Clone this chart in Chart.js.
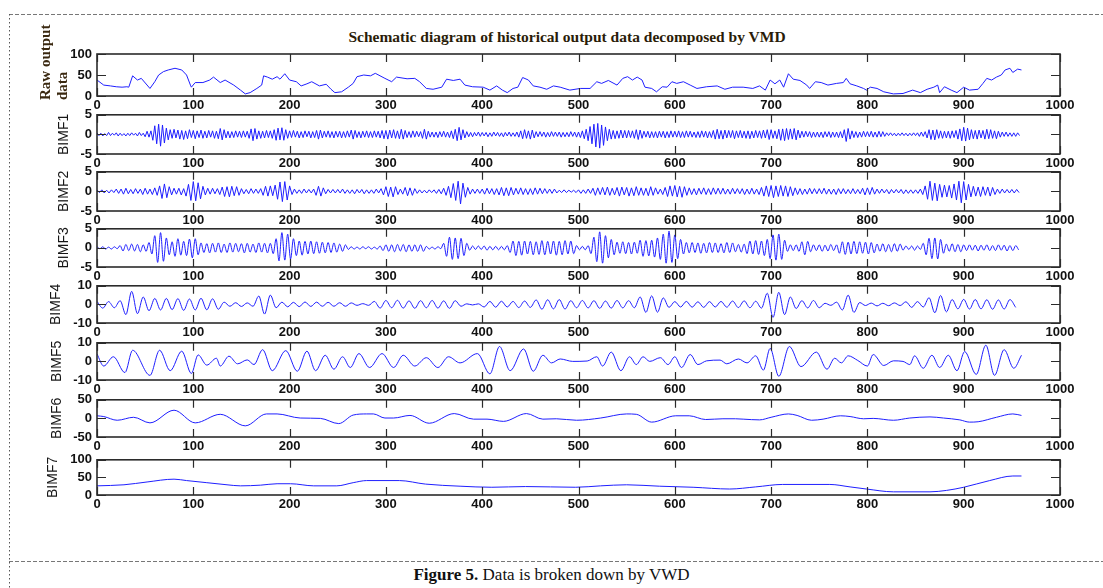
<!DOCTYPE html>
<html>
<head>
<meta charset="utf-8">
<title>VMD decomposition</title>
<script src="https://cdn.jsdelivr.net/npm/chart.js@4.4.1/dist/chart.umd.min.js"></script>
<style>
  html, body { margin: 0; padding: 0; background: #fff; }
  #figure { position: relative; width: 1103px; height: 588px; overflow: hidden; background: #fff; }
  #frame { position: absolute; left: 0; top: 0; }
  #figure canvas { position: absolute; left: 0; }
  #title {
    position: absolute; left: 567px; top: 29px; transform: translateX(-50%);
    font: bold 15.5px "Liberation Serif", "Times New Roman", serif; line-height: 1;
    color: #2a1c08; white-space: nowrap;
  }
  #caption {
    position: absolute; left: 0; width: 1103px; top: 566px; text-align: center;
    font: 17px "Liberation Serif", "Times New Roman", serif; line-height: 1; color: #111;
    white-space: nowrap;
  }
</style>
</head>
<body>
<div id="figure">
  <svg id="frame" width="1103" height="588">
    <line x1="9" y1="14.5" x2="1103" y2="14.5" stroke="#777" stroke-width="1" stroke-dasharray="4 2"/>
    <line x1="9" y1="561.5" x2="1103" y2="561.5" stroke="#777" stroke-width="1" stroke-dasharray="4 2"/>
    <line x1="9.5" y1="14" x2="9.5" y2="588" stroke="#555" stroke-width="1" stroke-dasharray="1.5 2.5"/>
  </svg>
  <div id="title">Schematic diagram of historical output data decomposed by VMD</div>
  <div id="caption"><b>Figure 5.</b> Data is broken down by VWD</div>
</div>
<script>
// ---- series --------------------------------------------------------------

// raw output, sampled where the curve turns
const RAW_X = [0,7,14,20,26,31,33,37,42,46,55,60,64,69,74,81,88,93,97,98,102,110,117,121,128,133,142,149,154,159,166,171,173,177,182,187,190,195,200,207,212,218,223,231,238,243,247,254,261,266,270,277,284,289,299,306,311,322,330,335,342,349,358,363,370,377,382,390,401,408,415,421,426,432,437,442,448,453,460,467,474,481,491,502,512,519,524,531,540,546,551,556,561,566,569,576,581,587,592,597,602,609,616,623,633,644,652,660,671,681,688,694,699,704,709,713,718,723,730,737,740,746,752,759,768,775,778,782,789,796,799,803,810,817,827,837,847,855,862,869,873,875,880,887,893,900,906,915,920,924,929,934,939,943,948,951,956,960];
const RAW_Y = [38,26,24,22,21,22,21,48,38,42,18,34,50,58,62,66,62,50,26,21,32,32,38,45,32,38,26,14,5,8,18,26,48,45,40,46,40,53,38,34,24,29,34,24,28,16,8,10,21,30,46,50,48,54,42,34,45,41,42,34,18,16,21,40,37,40,26,22,21,14,24,14,8,18,21,44,38,24,21,16,24,21,14,18,18,34,30,37,26,42,46,38,45,38,21,18,10,22,21,34,30,34,26,18,22,24,16,21,21,18,24,14,38,29,38,21,53,40,37,26,18,34,32,26,30,32,42,29,24,18,14,21,18,10,5,6,14,8,16,21,26,8,22,14,8,21,14,16,30,42,38,45,50,62,66,56,64,62];

// BIMF1, one value every 2 samples
const BIMF1_STEP = 2;
const BIMF1 = [
  0.4,-0.3,0.3,-0.4,0.2,-0.3,0.5,-0.3,0.3,-0.2,0.4,-0.4,0.3,-0.3,0.2,-0.4,0.3,-0.3,0.4,-0.2,0.3,-0.4,0.5,-0.3,0.3,
  -0.6,0.8,-0.7,0.9,-1.5,2.2,-2.4,2.6,-3.0,2.4,-2.2,1.6,-1.4,1.2,-1.0,1.3,-0.9,1.1,-1.2,1.0,-1.3,0.9,-1.1,1.2,-0.8,
  1.0,-1.1,0.9,-0.8,1.1,-1.0,0.8,-0.9,1.0,-0.7,0.9,-1.0,0.8,-1.1,1.5,-1.4,1.2,-0.9,0.8,-0.9,0.7,-0.8,0.9,-0.7,0.8,
  -0.8,0.9,-0.7,0.8,-1.0,1.4,-1.6,1.5,-1.2,0.9,-1.0,0.8,-0.9,1.0,-0.8,0.9,-1.0,1.2,-1.5,1.6,-1.4,1.7,-1.5,1.2,-1.0,
  0.9,-0.8,1.0,-0.7,0.8,-0.9,0.7,-0.8,0.9,-0.6,0.8,-0.9,0.7,-0.8,1.0,-1.2,1.1,-0.9,0.8,-0.7,0.9,-0.8,0.7,-0.9,0.8,
  -0.7,0.8,-0.9,0.7,-0.8,0.9,-0.7,1.1,-1.2,1.0,-0.8,0.7,-0.9,0.8,-0.7,0.9,-0.8,0.7,-0.8,0.9,-0.7,0.8,-0.9,1.0,-1.1,
  1.0,-1.2,1.1,-0.9,1.2,-1.0,0.9,-1.1,1.3,-1.2,1.0,-0.8,0.7,-0.8,0.9,-0.7,0.8,-0.6,0.7,-1.0,1.3,-1.2,0.8,-0.7,0.6,
  -0.7,0.6,-0.8,0.7,-0.6,0.8,-0.7,0.6,-0.8,0.9,-1.1,1.3,-1.6,1.8,-1.4,1.2,-0.9,0.7,-0.6,0.5,-0.6,0.5,-0.4,0.6,-0.5,
  0.5,-0.4,0.5,-0.6,0.4,-0.5,0.6,-0.4,0.5,-0.5,0.4,-0.6,0.5,-0.4,0.6,-0.5,0.4,-0.5,0.6,-0.7,0.9,-1.1,1.2,-1.0,0.9,
  -1.2,1.1,-0.9,0.7,-0.6,0.7,-0.5,0.6,-0.7,0.5,-0.6,0.7,-0.5,0.6,-0.5,0.6,-0.7,0.5,-0.6,0.5,-0.6,0.7,-0.5,0.6,-0.7,
  0.6,-0.8,0.9,-1.1,1.3,-1.6,2.0,-2.4,2.6,-3.2,2.8,-3.5,2.4,-2.8,1.9,-1.6,1.3,-1.2,1.0,-1.1,0.9,-1.0,1.1,-0.9,1.0,
  -0.9,1.0,-0.8,0.9,-1.0,1.2,-1.3,1.1,-1.0,0.8,-0.7,0.8,-0.9,0.7,-0.8,0.7,-0.9,0.8,-0.7,0.8,-0.9,0.7,-0.8,0.9,-0.7,
  0.8,-0.7,0.9,-0.8,0.7,-0.8,0.9,-0.7,0.8,-0.7,0.6,-0.8,0.7,-0.8,0.9,-0.7,0.8,-0.9,0.7,-0.8,1.0,-1.2,1.3,-1.1,1.0,
  -1.2,1.1,-0.9,1.0,-0.8,1.0,-1.1,0.9,-0.8,1.0,-0.9,0.8,-1.0,0.9,-1.1,0.8,-0.9,1.0,-0.8,0.9,-1.0,1.1,-0.9,1.2,-1.3,
  1.2,-1.0,0.9,-1.1,1.3,-1.5,1.4,-1.6,1.5,-1.3,1.4,-1.2,1.5,-1.4,1.1,-0.9,0.8,-0.7,0.8,-0.6,0.7,-0.8,0.6,-0.7,0.6,
  -0.7,0.6,-0.8,0.7,-0.6,0.7,-0.8,0.6,-0.7,0.6,-0.8,0.7,-0.9,1.2,-1.8,1.5,-1.2,0.9,-0.8,0.7,-0.8,0.6,-0.7,0.8,-0.6,
  0.7,-0.6,0.8,-0.7,0.6,-0.7,0.8,-0.6,0.7,-0.5,0.4,-0.3,0.4,-0.3,0.3,-0.4,0.3,-0.3,0.4,-0.3,0.3,-0.4,0.3,-0.3,0.4,
  -0.3,0.4,-0.5,0.6,-0.5,0.7,-0.9,1.2,-1.3,1.1,-1.4,1.2,-1.0,0.9,-1.0,0.8,-0.9,0.8,-1.0,0.9,-0.8,1.0,-1.2,1.4,-1.6,
  1.8,-1.7,1.6,-1.4,1.2,-1.1,1.0,-1.2,1.1,-0.9,1.0,-1.2,1.3,-1.1,1.2,-1.0,0.9,-1.1,0.8,-0.7,0.6,-0.5,0.6,-0.5,0.4,
  -0.5,0.4,-0.5,0.4,-0.3
];

// BIMF2, one value every 2.5 samples
const BIMF2_STEP = 2.5;
const BIMF2 = [
  0.4,-0.3,0.4,-0.4,0.3,-0.4,0.4,-0.3,0.6,-0.5,0.6,-0.7,0.8,-0.6,0.5,-0.6,0.7,-0.5,0.6,-0.8,
  0.8,-0.7,0.6,-0.8,0.9,-1.0,1.4,-1.8,1.9,-1.6,1.2,-0.9,0.8,-0.7,0.8,-0.9,0.7,-1.2,1.8,-2.3,
  2.5,-2.4,2.2,-1.9,1.3,-0.9,0.8,-0.7,0.8,-0.6,0.7,-0.8,1.1,-1.3,1.2,-1.4,1.3,-1.1,1.2,-1.0,
  0.7,-0.6,0.5,-0.6,0.7,-0.5,0.6,-0.5,0.7,-1.0,1.3,-1.2,1.4,-1.1,1.6,-2.0,2.4,-2.6,2.5,-2.2,
  1.4,-0.8,0.6,-0.5,0.4,-0.5,0.6,-0.4,0.5,-0.4,0.6,-1.0,1.3,-1.2,0.9,-0.6,0.5,-0.4,0.5,-0.4,
  0.5,-0.4,0.6,-0.5,0.4,-0.5,0.4,-0.6,0.5,-0.4,0.5,-0.6,0.4,-0.5,0.4,-0.5,0.6,-0.4,0.7,-0.9,
  1.2,-1.3,1.1,-1.4,1.2,-0.8,0.6,-0.7,1.0,-1.1,0.9,-1.0,0.7,-0.5,0.4,-0.4,0.3,-0.4,0.4,-0.3,
  0.4,-0.5,0.5,-0.6,0.8,-1.0,1.3,-1.6,2.0,-2.3,2.6,-3.2,2.1,-1.5,1.0,-0.7,0.6,-0.5,0.6,-0.5,
  0.6,-0.7,0.8,-0.6,0.7,-0.8,0.7,-0.9,1.0,-1.1,0.9,-1.1,1.0,-0.9,0.8,-0.7,0.9,-0.8,0.7,-0.8,
  0.7,-0.8,0.9,-0.7,0.8,-0.6,0.7,-0.5,0.6,-0.5,0.6,-0.4,0.3,-0.3,0.4,-0.3,0.3,-0.2,0.3,-0.3,
  0.4,-0.5,0.4,-0.5,0.6,-0.5,0.8,-1.0,0.9,-0.8,1.0,-0.9,1.1,-1.0,0.8,-0.9,1.0,-1.2,1.1,-0.9,
  1.0,-1.2,0.9,-1.1,1.2,-1.0,0.9,-1.0,0.8,-1.1,1.2,-1.0,0.9,-0.7,0.6,-0.8,1.0,-1.3,1.4,-1.2,
  1.5,-1.4,1.3,-1.5,1.2,-1.0,0.9,-0.8,0.7,-0.9,0.8,-0.7,0.9,-0.8,0.7,-0.8,0.9,-0.7,0.8,-0.7,
  0.8,-0.7,0.6,-0.7,0.8,-0.6,0.7,-0.6,0.7,-0.8,0.6,-0.7,0.8,-0.7,0.6,-0.8,1.0,-1.2,1.4,-1.3,
  1.5,-1.6,1.4,-1.3,1.5,-1.2,1.4,-1.3,1.2,-1.1,0.9,-0.8,0.7,-0.8,0.6,-0.7,0.8,-0.6,0.7,-0.6,
  0.7,-0.6,0.8,-0.7,0.6,-0.7,0.6,-0.8,0.7,-0.6,0.7,-0.6,0.5,-0.6,0.7,-0.6,0.5,-0.6,0.8,-0.9,
  0.9,-0.8,1.0,-0.7,0.6,-0.5,0.6,-0.4,0.5,-0.6,0.5,-0.4,0.5,-0.4,0.5,-0.6,0.4,-0.5,0.4,-0.5,
  0.4,-0.5,0.6,-0.8,1.4,-2.0,2.6,-2.3,2.1,-2.4,1.8,-1.5,1.6,-1.4,1.5,-1.7,1.9,-2.2,2.6,-2.9,
  2.5,-2.2,1.8,-1.4,1.3,-1.2,1.1,-1.3,1.2,-1.0,1.1,-1.2,1.0,-0.8,0.6,-0.5,0.6,-0.4,0.5,-0.4,
  0.5,-0.4,0.5,-0.3
];

// BIMF3, one value every 3 samples
const BIMF3_STEP = 3;
const BIMF3 = [
  0.3,-0.2,0.3,-0.3,0.2,-0.3,0.3,-0.2,0.6,-0.8,0.9,-0.7,1.0,-0.8,0.9,-1.0,0.8,-0.9,1.4,-1.6,
  3.2,-3.8,4.0,-3.5,2.6,-1.8,1.6,-2.2,2.4,-1.9,1.7,-2.0,2.3,-2.6,2.4,-1.8,1.3,-1.2,1.1,-1.3,
  1.2,-1.1,1.3,-1.2,1.0,-1.2,1.3,-1.1,1.2,-1.0,1.1,-1.3,1.2,-1.1,1.0,-1.2,1.3,-1.1,1.2,-1.3,
  1.2,-1.5,2.4,-3.4,4.0,-3.2,3.6,-2.9,2.4,-2.0,1.8,-1.9,1.7,-1.6,1.8,-1.5,1.6,-1.4,1.5,-1.3,
  1.4,-1.2,1.3,-1.1,1.0,-0.9,0.8,-0.4,0.3,-0.3,0.2,-0.3,0.3,-0.2,0.3,-0.3,0.2,-0.3,0.5,-0.7,
  0.8,-0.9,0.8,-1.0,0.9,-0.8,0.9,-1.0,0.8,-0.9,0.8,-0.9,0.8,-0.9,0.4,-0.3,0.2,-0.3,0.3,-0.2,
  1.2,-2.2,2.8,-3.0,2.6,-2.8,2.5,-2.0,1.2,-0.6,0.5,-0.4,0.5,-0.4,0.5,-0.6,0.4,-0.5,0.4,-0.5,
  0.4,-0.5,0.6,-1.2,1.8,-2.0,1.7,-1.9,1.8,-1.6,1.7,-1.8,1.6,-1.7,1.9,-1.8,1.7,-1.6,1.8,-1.9,
  1.7,-1.8,1.9,-1.6,1.8,-1.5,0.6,-0.5,0.4,-0.5,0.6,-1.5,2.8,-3.6,4.2,-4.0,3.2,-2.6,2.2,-1.8,
  1.5,-1.4,1.6,-1.5,1.4,-1.6,1.5,-1.4,2.0,-2.2,1.9,-2.1,2.0,-2.4,2.6,-3.0,3.6,-4.0,4.4,-3.8,
  3.4,-2.8,2.2,-1.6,1.4,-1.3,1.4,-1.2,1.3,-1.4,1.2,-1.3,1.4,-1.2,1.3,-1.2,1.1,-1.3,1.4,-1.2,
  1.3,-1.0,0.9,-1.1,1.0,-1.5,1.8,-1.6,1.9,-1.7,1.8,-2.0,2.2,-2.8,3.4,-3.2,3.6,-3.0,2.0,-0.9,
  0.8,-0.7,0.8,-0.9,1.6,-1.8,1.7,-1.0,0.8,-0.7,0.8,-0.9,0.7,-0.8,0.9,-0.7,0.8,-1.4,1.6,-1.7,
  1.5,-1.6,1.7,-1.5,1.6,-1.4,1.5,-1.6,1.4,-1.3,1.0,-0.9,1.1,-1.0,0.9,-1.0,1.1,-0.9,1.0,-0.6,
  0.5,-0.4,0.5,-0.6,0.5,-0.4,1.2,-1.8,2.5,-2.8,2.6,-2.9,2.2,-1.4,1.0,-0.9,1.1,-1.0,0.9,-1.0,
  0.8,-0.7,0.8,-0.6,0.7,-0.8,0.7,-0.6,0.8,-0.7,0.6,-0.7,0.8,-0.6,0.7,-0.8,0.6,-0.7,0.6,-0.5
];

// BIMF4, one value every 6 samples
const BIMF4_STEP = 6;
const BIMF4 = [
  1.6,-2.0,1.5,-1.8,2.0,-5.5,7.0,-5.0,4.0,-3.4,3.2,-3.0,3.2,-2.8,3.1,-3.2,2.9,-3.0,3.3,-2.9,
  3.0,-2.6,1.2,-1.0,0.9,-1.1,0.8,-1.0,4.5,-5.2,5.0,-1.8,1.2,-1.3,1.1,-1.2,1.3,-1.1,1.2,-1.0,
  1.1,-1.0,0.9,-1.0,0.8,-0.5,0.4,-0.5,1.6,-2.0,2.1,-1.8,2.2,-2.0,1.9,-2.1,2.0,-1.8,2.1,-2.0,
  1.9,-2.1,2.0,-1.0,0.3,-0.3,0.3,-1.4,1.6,-1.5,1.7,-1.4,1.6,-1.7,1.8,-1.6,2.4,-2.6,2.5,-2.4,
  2.6,-2.5,2.0,-1.8,2.1,-1.9,2.0,-2.1,1.8,-2.0,2.1,-1.9,2.0,-1.8,4.0,-4.3,4.6,-4.2,3.5,-1.6,
  1.5,-1.4,1.6,-1.5,1.4,-1.6,1.5,-1.4,1.6,-1.5,1.8,-1.7,1.9,-1.8,1.7,-2.0,6.0,-7.0,6.5,-5.5,
  4.0,-2.2,2.0,-1.9,2.1,-1.8,0.6,-0.5,1.2,-3.0,5.0,-4.3,1.0,-0.6,0.7,-0.8,0.6,-0.7,0.8,-0.6,
  1.4,-1.6,1.5,-1.4,3.6,-4.5,4.8,-4.0,2.6,-2.4,2.7,-2.5,2.6,-2.4,2.5,-2.6,2.4,-2.5,2.6,-1.6
];

// BIMF5, peaks and troughs
const BIMF5_X = [0,7,17,29,37,55,65,76,88,98,105,114,124,128,137,146,156,163,172,182,196,208,218,227,237,246,255,263,272,283,296,308,318,330,342,354,365,377,395,408,418,429,443,453,463,472,481,494,509,519,525,534,544,553,560,567,574,585,593,600,607,616,624,633,647,654,666,675,684,692,699,708,719,731,747,758,766,773,780,790,800,806,817,827,837,844,849,858,867,875,884,893,901,913,923,932,942,952,960];
const BIMF5_Y = [4,-2.5,2.5,-6,6,-7.5,6,-5,5.5,-6.5,3.5,-2,1.7,-2.5,2.8,-1.3,0.8,-1.7,6.3,-5,5.8,-5.3,5.5,-5,3.3,-4.2,2.5,-3.3,4.2,-3.3,4.2,-3.3,3.3,-2.5,2,-3.3,2.5,-0.8,4.2,-6.7,8,-5,6.7,-5.3,3.3,-0.8,1.3,0,0.2,2.5,-2.5,5,-5,2.5,-1.7,2.5,0,2,-1.7,2.5,-3.3,3.7,-1.7,0.3,0.7,-1.3,1.3,-0.8,3,-4.7,7,-8,8,-2.8,5,-4.2,1.7,-0.8,3,0.5,-2.5,3.7,-2.2,0.3,0,-1.7,3,-3.7,3.3,-3.3,3.3,-5,5.3,-7,8.7,-7.5,6.3,-3.7,3.3];

// BIMF6
const BIMF6_X = [0,7,21,38,55,80,102,128,154,176,187,211,232,251,266,280,287,299,308,325,345,371,391,405,422,446,463,477,498,523,550,560,576,601,615,632,650,663,671,688,700,718,727,742,754,772,782,796,806,827,844,865,879,896,906,915,934,951,960];
const BIMF6_Y = [7,5,-5,3,-12,22,-12,11,-20,12,12,1,0,-14,9,12,12,1,1,8,-13,13,-2,-2,-8,13,-2,-1,-5,1,12,11,-10,7,7,-3,-1,-1,-2,-4,3,12,8,-5,-2,7,5,-1,0,-5,1,4,1,-4,-10,-9,3,12,8];

// BIMF7, the trend
const BIMF7_X = [0,28,52,80,93,114,135,149,170,187,201,225,249,266,280,314,341,377,410,445,497,523,550,584,619,657,684,712,761,782,799,827,865,882,900,927,951,960];
const BIMF7_Y = [26,29,37,45,41,35,29,26,28,32,32,26,26,35,41,41,31,25,22,24,22,26,29,25,22,17,23,30,30,23,17,9,9,13,22,41,54,54];

// axis labels and ranges
const Y_LABELS = [['Raw output', 'data'], 'BIMF1', 'BIMF2', 'BIMF3', 'BIMF4', 'BIMF5', 'BIMF6', 'BIMF7'];
const Y_MIN = [0, -5, -5, -5, -10, -10, -50, 0];
const Y_MAX = [100, 5, 5, 5, 10, 10, 50, 100];
const Y_STEP = [50, 5, 5, 5, 10, 10, 50, 50];
const X_MIN = 0, X_MAX = 1000, X_STEP = 100;

// ---- layout --------------------------------------------------------------
const PANEL_TOP = [54, 112, 169, 226, 283, 340, 397, 457];
const PANEL_BOTTOM = [96, 154, 211, 267, 323, 380, 437, 495];
const LABEL_X = [46, 64, 64, 64, 56, 57, 57, 53];
const PLOT_LEFT = 97, PLOT_RIGHT = 1060, WIDTH = 1103;
const AXIS_H = 20;
const LINE_BLUE = '#1f1fff';
const INK = '#2b2b2b';

function uniform(values, step) {
  return values.map((y, i) => ({ x: i * step, y }));
}
function paired(xs, ys) {
  return xs.map((x, i) => ({ x, y: ys[i] }));
}

const SERIES = [
  { data: paired(RAW_X, RAW_Y), smooth: false },
  { data: uniform(BIMF1, BIMF1_STEP), smooth: false },
  { data: uniform(BIMF2, BIMF2_STEP), smooth: false },
  { data: uniform(BIMF3, BIMF3_STEP), smooth: true },
  { data: uniform(BIMF4, BIMF4_STEP), smooth: true },
  { data: paired(BIMF5_X, BIMF5_Y), smooth: true },
  { data: paired(BIMF6_X, BIMF6_Y), smooth: true },
  { data: paired(BIMF7_X, BIMF7_Y), smooth: true }
];

// box round the axes with matlab-style inward ticks
const axesBox = {
  id: 'axesBox',
  afterDatasetsDraw(chart) {
    const { ctx, chartArea: a, scales } = chart;
    ctx.save();
    ctx.strokeStyle = INK;
    ctx.lineWidth = 1.6;
    ctx.strokeRect(a.left, a.top, a.right - a.left, a.bottom - a.top);
    ctx.lineWidth = 1.2;
    ctx.beginPath();
    scales.x.ticks.forEach(t => {
      const px = Math.round(scales.x.getPixelForValue(t.value)) + 0.5;
      ctx.moveTo(px, a.top); ctx.lineTo(px, a.top + 8);
      ctx.moveTo(px, a.bottom); ctx.lineTo(px, a.bottom - 8);
    });
    scales.y.ticks.forEach(t => {
      const py = Math.round(scales.y.getPixelForValue(t.value)) + 0.5;
      ctx.moveTo(a.left, py); ctx.lineTo(a.left + 9, py);
      ctx.moveTo(a.right, py); ctx.lineTo(a.right - 9, py);
    });
    ctx.stroke();
    ctx.restore();
  }
};

// rotated y label; the two-line one is bottom-aligned like matlab does it
const yLabel = {
  id: 'yLabel',
  afterDraw(chart, args, opts) {
    const { ctx, chartArea: a } = chart;
    const lines = Array.isArray(opts.text) ? opts.text : [opts.text];
    ctx.save();
    ctx.fillStyle = opts.color;
    ctx.font = opts.font;
    ctx.textBaseline = 'middle';
    lines.forEach((line, k) => {
      ctx.save();
      if (lines.length > 1) {
        ctx.translate(opts.x + k * opts.lineHeight, a.bottom + 4);
        ctx.textAlign = 'left';
      } else {
        ctx.translate(opts.x, (a.top + a.bottom) / 2);
        ctx.textAlign = 'center';
      }
      ctx.rotate(-Math.PI / 2);
      ctx.fillText(line, 0, 0);
      ctx.restore();
    });
    ctx.restore();
  }
};

const tickFont = { family: '"Liberation Sans", Arial, sans-serif', size: 13, weight: 'bold' };
const figure = document.getElementById('figure');

SERIES.forEach((s, i) => {
  const isRaw = Array.isArray(Y_LABELS[i]);
  const padTop = isRaw ? 40 : 10;   // room for the long two-line label
  const h = PANEL_BOTTOM[i] - PANEL_TOP[i] + padTop + AXIS_H;
  const canvas = document.createElement('canvas');
  canvas.width = WIDTH;
  canvas.height = h;
  canvas.style.top = (PANEL_TOP[i] - padTop) + 'px';
  canvas.style.width = WIDTH + 'px';
  canvas.style.height = h + 'px';
  figure.appendChild(canvas);

  new Chart(canvas, {
    type: 'line',
    data: {
      datasets: [{
        data: s.data,
        borderColor: LINE_BLUE,
        borderWidth: 1,
        pointRadius: 0,
        fill: false,
        tension: 0,
        cubicInterpolationMode: s.smooth ? 'monotone' : 'default'
      }]
    },
    options: {
      responsive: false,
      animation: false,
      events: [],
      layout: { padding: { top: padTop, left: 0, right: WIDTH - PLOT_RIGHT, bottom: 0 } },
      plugins: {
        legend: { display: false },
        tooltip: { enabled: false },
        yLabel: {
          text: Y_LABELS[i],
          x: LABEL_X[i],
          lineHeight: 17,
          color: isRaw ? '#3a2810' : '#161616',
          font: isRaw ? 'bold 15px "Liberation Serif", "Times New Roman", serif'
                      : '14px "Liberation Sans", Arial, sans-serif'
        }
      },
      scales: {
        x: {
          type: 'linear',
          min: X_MIN, max: X_MAX,
          grid: { display: false, drawTicks: false },
          border: { display: false },
          ticks: {
            stepSize: X_STEP, autoSkip: false, maxRotation: 0, padding: 2,
            font: tickFont, color: '#111',
            callback: v => String(v)
          },
          afterFit(scale) { scale.height = AXIS_H; }
        },
        y: {
          type: 'linear',
          min: Y_MIN[i], max: Y_MAX[i],
          grid: { display: false, drawTicks: false },
          border: { display: false },
          ticks: {
            stepSize: Y_STEP[i], autoSkip: false, padding: 5,
            font: tickFont, color: '#111',
            callback: v => String(v)
          },
          afterFit(scale) { scale.width = PLOT_LEFT; }
        }
      }
    },
    plugins: [axesBox, yLabel]
  });
});
</script>
</body>
</html>
